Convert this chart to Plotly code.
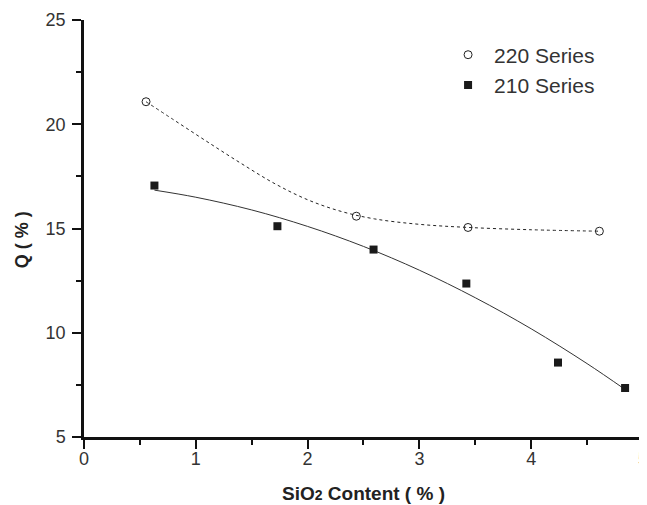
import plotly.graph_objects as go

# 220 Series data points
x220 = [0.555, 2.436, 3.435, 4.61]
y220 = [21.08, 15.59, 15.05, 14.87]
# 210 Series data points
x210 = [0.63, 1.73, 2.59, 3.42, 4.24, 4.84]
y210 = [17.06, 15.11, 13.99, 12.36, 8.57, 7.35]

# smooth curve for 220 Series
cx220 = [0.555, 0.80, 1.10, 1.40, 1.70, 2.00, 2.30, 2.60, 3.00, 3.44, 4.00, 4.61]
cy220 = [21.08, 20.22, 19.17, 18.14, 17.17, 16.38, 15.82, 15.46, 15.20, 15.05, 14.94, 14.87]
# fitted curve for 210 Series
cx210 = [0.63, 1.0, 1.5, 2.0, 2.5, 3.0, 3.5, 4.0, 4.5, 4.84]
cy210 = [16.84, 16.50, 15.89, 15.10, 14.14, 13.00, 11.68, 10.19, 8.52, 7.28]

xticks = [0, 1, 2, 3, 4, 5]
yticks = [5, 10, 15, 20, 25]

FONT = "Liberation Sans, Arial"

fig = go.Figure()
fig.add_trace(go.Scatter(x=cx220, y=cy220, mode="lines", line=dict(color="#222", width=1, dash="3px,3px", shape="spline"),
                         showlegend=False, hoverinfo="skip"))
fig.add_trace(go.Scatter(x=cx210, y=cy210, mode="lines", line=dict(color="#333", width=1, shape="spline"),
                         showlegend=False, hoverinfo="skip"))
fig.add_trace(go.Scatter(x=x220, y=y220, mode="markers", name="220 Series",
                         marker=dict(symbol="circle-open", size=8, color="#222", line=dict(width=1, color="#222"))))
fig.add_trace(go.Scatter(x=x210, y=y210, mode="markers", name="210 Series",
                         marker=dict(symbol="square", size=8, color="#1a1a1a")))

axis_common = dict(showline=True, linecolor="#111", linewidth=2.5, ticks="outside", ticklen=9, tickwidth=2,
                   tickcolor="#111", showgrid=False, zeroline=False, mirror=False,
                   ticklabeloverflow="allow",
                   tickfont=dict(family=FONT, size=18, color="#333"))
fig.update_xaxes(range=[0, 5.036], tickvals=xticks, ticktext=[str(v) for v in xticks], ticklabelstandoff=-5,
                 minor=dict(ticks="outside", ticklen=5, tickwidth=2, tickcolor="#111", dtick=0.5, showgrid=False),
                 **axis_common)
fig.update_yaxes(range=[5, 25], tickvals=yticks, ticktext=[str(v) for v in yticks], ticklabelstandoff=3,
                 minor=dict(ticks="outside", ticklen=5, tickwidth=2, tickcolor="#111", dtick=2.5, showgrid=False),
                 **axis_common)

fig.update_layout(
    width=639, height=497,
    margin=dict(l=76, r=0, t=12, b=68),
    paper_bgcolor="white", plot_bgcolor="white",
    legend=dict(x=0.636, y=0.88, xanchor="left", yanchor="middle", bgcolor="rgba(0,0,0,0)", itemwidth=42,
                font=dict(family=FONT, size=21, color="#333")),
    annotations=[
        dict(text="SiO<span style=\"font-size:14px\">2</span> Content ( % )", xref="paper", yref="paper",
             x=0.497, y=0, yshift=-56, showarrow=False, xanchor="center", yanchor="middle",
             font=dict(family=FONT, size=19, color="#222", weight="bold")),
        dict(text="Q ( % )", xref="paper", yref="paper", x=0, xshift=-62, y=0.472, textangle=-90,
             showarrow=False, xanchor="center", yanchor="middle",
             font=dict(family=FONT, size=18, color="#222", weight="bold")),
    ],
)
fig.write_html("out.html")
